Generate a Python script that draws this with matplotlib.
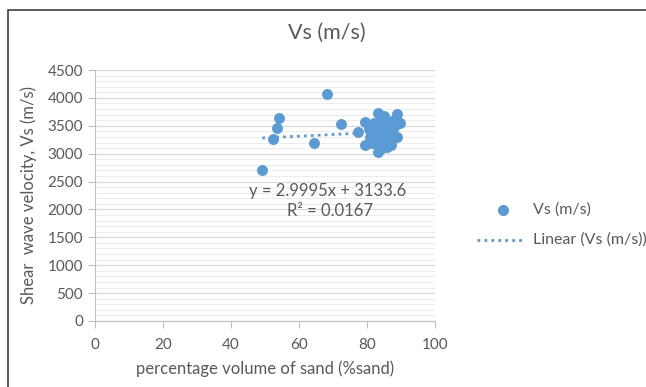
import matplotlib
matplotlib.use("Agg")
import matplotlib.pyplot as plt
from matplotlib.patches import Rectangle
from matplotlib.lines import Line2D
import numpy as np

plt.rcParams['font.family'] = ['Lato', 'DejaVu Sans']

title = "Vs (m/s)"
x_label = "percentage volume of sand (%sand)"
y_label = "Shear  wave velocity, Vs (m/s)"
series_name = "Vs (m/s)"
trend_name = "Linear (Vs (m/s))"
slope = 2.9995
intercept = 3133.6
r2 = 0.0167

sand = [49.2, 52.4, 53.4, 54.2, 64.5, 68.3, 72.4, 77.3,
        79.4, 79.4, 80.5, 81.0, 81.5, 82.0, 82.5, 83.3, 83.3, 83.0, 84.0, 84.5,
        85.0, 85.5, 86.0, 86.5, 87.0, 87.5, 88.0, 88.7, 88.7, 89.7, 84.0, 85.0,
        86.0, 87.0, 82.0, 83.5, 84.5, 85.5, 86.5, 88.0, 83.0, 85.0, 87.0, 84.5]
vs = [2700, 3263, 3455, 3634, 3197, 4070, 3527, 3394,
      3573, 3156, 3450, 3300, 3200, 3550, 3400, 3735, 3035, 3150, 3600, 3480,
      3350, 3250, 3120, 3500, 3400, 3300, 3600, 3706, 3304, 3555, 3200, 3680,
      3580, 3220, 3420, 3300, 3100, 3450, 3350, 3470, 3520, 3150, 3150, 3380]

fig = plt.figure(figsize=(6.46, 3.87), dpi=100)
W, H = 646, 387

# chart border
fig.patches.append(Rectangle((8 / W, -0.1), 1.2, 1 - 10 / H + 0.1, transform=fig.transFigure,
                             fill=False, edgecolor='#404040', linewidth=1.2))

ax = fig.add_axes([95 / W, 1 - 321 / H, (435 - 95) / W, (321 - 70) / H])
ax.set_xlim(0, 100)
ax.set_ylim(0, 4500)
ax.set_xticks(np.arange(0, 101, 20))
ax.set_yticks(np.arange(0, 4501, 500))
ax.set_yticks(np.arange(0, 4501, 100), minor=True)
ax.grid(which='major', axis='y', color='#d9d9d9', linewidth=0.9)
ax.grid(which='minor', axis='y', color='#ececec', linewidth=0.7)
ax.set_axisbelow(True)
for s in ['top', 'right']:
    ax.spines[s].set_visible(False)
for s in ['left', 'bottom']:
    ax.spines[s].set_color('#bfbfbf')
ax.tick_params(axis='both', which='major', colors='#bfbfbf', labelcolor='#595959',
               labelsize=11, length=5)
ax.tick_params(axis='y', which='minor', length=0)
ax.tick_params(axis='x', pad=7)

ax.scatter(sand, vs, s=62, color='#5b9bd5', zorder=3, linewidths=0)
xt = np.array([min(sand), max(sand)])
ax.plot(xt, slope * xt + intercept, linestyle=(0, (1, 1.5)), color='#5b9bd5',
        linewidth=2, zorder=2)

ax.text(68.5, 2331, f"y = {slope}x + {intercept}", ha='center', va='center',
        fontsize=12, color='#595959')
ax.text(69, 1972, f"R² = {r2}", ha='center', va='center', fontsize=12, color='#595959')

ax.set_xlabel(x_label, fontsize=12, color='#595959', labelpad=6)
ax.set_ylabel(y_label, fontsize=12, color='#595959', labelpad=8)
fig.text(327 / W, 1 - 33 / H, title, ha='center', va='center',
         fontsize=15.5, color='#595959')

# legend (drawn manually in figure pixels)
def fx(px):
    return px / W

def fy(py):
    return 1 - py / H

fig.add_artist(Line2D([fx(503)], [fy(210)], marker='o', linestyle='none',
                      color='#5b9bd5', markersize=8, markeredgewidth=0,
                      transform=fig.transFigure))
fig.add_artist(Line2D([fx(477), fx(523)], [fy(240), fy(240)], linestyle=(0, (1, 1.5)),
                      color='#5b9bd5', linewidth=2, transform=fig.transFigure))
fig.text(fx(533), fy(210), series_name, ha='left', va='center', fontsize=11.5, color='#595959')
fig.text(fx(533), fy(240), trend_name, ha='left', va='center', fontsize=11.5, color='#595959')

fig.savefig("out.png", dpi=100)
